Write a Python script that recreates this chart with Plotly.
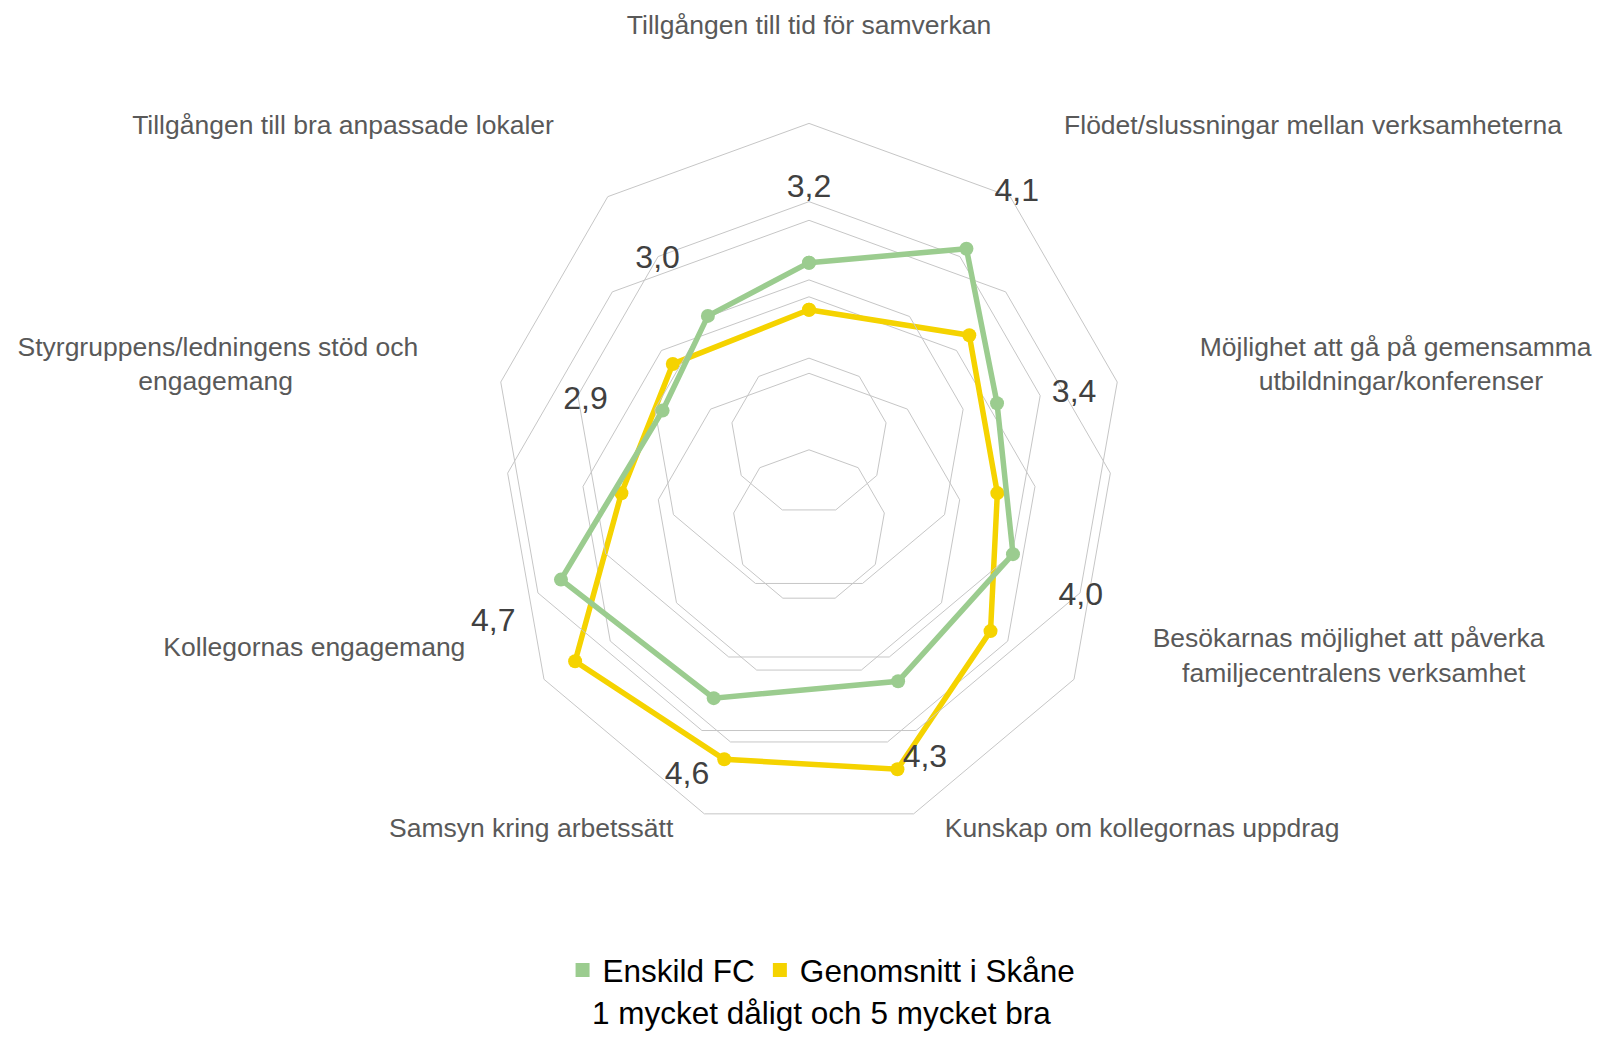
import plotly.graph_objects as go

categories = [
    "Tillgången till tid för samverkan",
    "Flödet/slussningar mellan verksamheterna",
    "Möjlighet att gå på gemensamma utbildningar/konferenser",
    "Besökarnas möjlighet att påverka familjecentralens verksamhet",
    "Kunskap om kollegornas uppdrag",
    "Samsyn kring arbetssätt",
    "Kollegornas engagemang",
    "Styrgruppens/ledningens stöd och engagemang",
    "Tillgången till bra anpassade lokaler",
]
# displayed (wrapped) category labels
NB = "\u00a0"
tick_labels = [
    "Tillgången till tid för samverkan",
    "Flödet/slussningar mellan verksamheterna",
    "Möjlighet att gå på gemensamma<br>" + NB * 8 + "utbildningar/konferenser",
    "Besökarnas möjlighet att påverka<br>" + NB * 4 + "familjecentralens verksamhet",
    "Kunskap om kollegornas uppdrag",
    "Samsyn kring arbetssätt",
    "Kollegornas engagemang",
    "Styrgruppens/ledningens stöd och<br>engagemang" + NB * 17,
    "Tillgången till bra anpassade lokaler",
]
enskild_fc = [3.22, 4.13, 3.44, 4.01, 4.33, 4.56, 4.66, 2.90, 3.01]
genomsnitt_skane = [3.83, 4.26, 3.50, 3.74, 4.38, 4.24, 4.53, 3.49, 3.77]
series_names = ["Enskild FC", "Genomsnitt i Skåne"]
note_text = "1 mycket dåligt och 5 mycket bra"

GREEN = "#9BCC8F"
YELLOW = "#F5D300"
GRID = "#C6C6C6"
FONT = "Liberation Sans, Arial, sans-serif"

W, H = 1594, 1025  # page body adds an 8px margin


def dom(cx, cy, r):
    return dict(x=[(cx - r) / W, (cx + r) / W], y=[1 - (cy + r) / H, 1 - (cy - r) / H])


labels = [f"{v:.1f}".replace(".", ",") for v in enskild_fc]

fig = go.Figure()

# yellow series (own radar)
fig.add_trace(go.Scatterpolar(
    r=genomsnitt_skane + genomsnitt_skane[:1], theta=categories + categories[:1],
    mode="lines+markers", line=dict(color=YELLOW, width=5.5),
    marker=dict(size=14, color=YELLOW), subplot="polar", showlegend=False))
# green series (own radar)
fig.add_trace(go.Scatterpolar(
    r=enskild_fc + enskild_fc[:1], theta=categories + categories[:1],
    mode="lines+markers", line=dict(color=GREEN, width=5.5),
    marker=dict(size=14, color=GREEN), subplot="polar2", showlegend=False))
# data labels
fig.add_trace(go.Scatterpolar(
    r=enskild_fc, theta=categories, mode="text", text=labels,
    textfont=dict(size=32, color="#404040", family=FONT),
    subplot="polar3", showlegend=False, cliponaxis=False))
# legend entries
for name, col in zip(series_names, [GREEN, YELLOW]):
    fig.add_trace(go.Scatterpolar(
        r=[None], theta=[None], mode="markers", name=name,
        marker=dict(symbol="square", size=14, color=col), subplot="polar2"))

common_ang = dict(direction="clockwise", rotation=90, categoryorder="array",
                  categoryarray=categories, showgrid=False)

fig.update_layout(
    width=W, height=H,
    margin=dict(l=0, r=0, t=0, b=0),
    paper_bgcolor="white", plot_bgcolor="white",
    font=dict(family=FONT),
    polar=dict(
        domain=dom(801, 518.3, 306), gridshape="linear", bgcolor="rgba(0,0,0,0)",
        radialaxis=dict(range=[1, 5], dtick=1, showticklabels=False, ticks="",
                        showline=False, gridcolor=GRID, gridwidth=1),
        angularaxis=dict(**common_ang, showline=True, linecolor=GRID, linewidth=1,
                         showticklabels=False, ticks=""),
    ),
    polar2=dict(
        domain=dom(801, 428.4, 313), gridshape="linear", bgcolor="rgba(0,0,0,0)",
        radialaxis=dict(range=[1, 5], dtick=1, showticklabels=False, ticks="",
                        showline=False, gridcolor=GRID, gridwidth=1),
        angularaxis=dict(**common_ang, showline=True, linecolor=GRID, linewidth=1,
                         tickmode="array", tickvals=categories, ticktext=tick_labels,
                         ticks="outside", ticklen=78, tickcolor="rgba(0,0,0,0)",
                         tickfont=dict(size=26.5, color="#595959", family=FONT)),
    ),
    polar3=dict(
        domain=dom(801, 432.6, 391.25), gridshape="linear", bgcolor="rgba(0,0,0,0)",
        radialaxis=dict(range=[0, 5], visible=False, showgrid=False),
        angularaxis=dict(**common_ang, visible=False),
    ),
    legend=dict(orientation="h", x=0.5104, xanchor="center", y=1 - 962 / H,
                yanchor="middle", font=dict(size=31.5, color="#000000", family=FONT),
                bgcolor="rgba(0,0,0,0)"),
    annotations=[dict(text=note_text, x=0.5104, y=0, xref="paper", yref="paper",
                      xanchor="center", yanchor="bottom", showarrow=False,
                      font=dict(size=31.5, color="#000000", family=FONT))],
)

fig.write_html("out.html")
